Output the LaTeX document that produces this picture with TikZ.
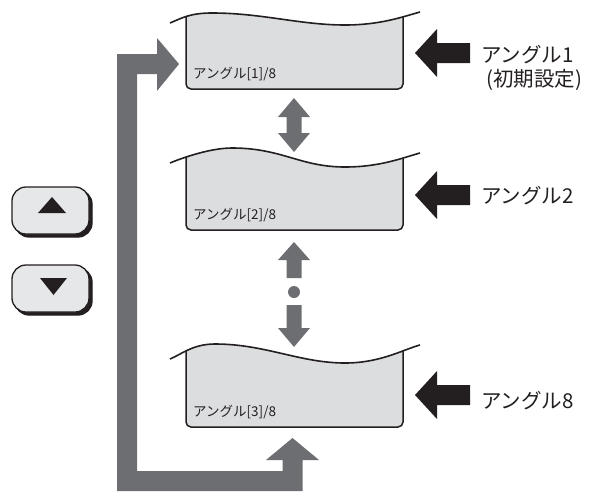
\documentclass[tikz,border=0pt]{standalone}
\usepackage{fontspec}
\setmainfont{Noto Sans CJK JP}
\definecolor{scrgray}{HTML}{DCDDDF}
\definecolor{btngray}{HTML}{E6E7E8}
\definecolor{arrgray}{HTML}{6D6E71}
\definecolor{ink}{HTML}{231F20}
\newcommand\screenbox[8]{% name, yL, xP, yP, yD, yR, bottom, label
  \begin{scope}
    \clip (170,#2) .. controls (182,#2-5) and (#3-22,#4) .. (#3,#4)
      .. controls (#3+50,#4) and (300,#5) .. (345,#5)
      .. controls (380,#5) and (402,#6+5) .. (420,#6)
      -- (420,#7+5) -- (170,#7+5) -- cycle;
    \draw[scr] (186,#4-12) rectangle (403,#7);
  \end{scope}
  \draw[waveline] (170,#2) .. controls (182,#2-5) and (#3-22,#4) .. (#3,#4)
      .. controls (#3+50,#4) and (300,#5) .. (345,#5)
      .. controls (380,#5) and (402,#6+5) .. (420,#6);
  \coordinate (#1) at (294.5,#7);
  \node[lbl] (#1lbl) at (193,#7-11) {#8};
}
\begin{document}
\begin{tikzpicture}[x=1pt,y=-1pt,
  scr/.style={fill=scrgray,draw=ink,line width=1.5pt,rounded corners=5pt},
  waveline/.style={draw=ink,line width=1.6pt},
  lbl/.style={font=\fontsize{13.5}{13.5}\selectfont,text=ink,anchor=base west,inner sep=0pt},
  big/.style={font=\fontsize{20.5}{22}\selectfont,text=ink,anchor=base west,inner sep=0pt},
  garrow/.style={fill=arrgray,draw=none},
  barrow/.style={fill=ink,draw=none},
  btn/.style={fill=btngray,draw=ink,line width=1.3pt,rounded corners=14pt},
  btnshadow/.style={fill=ink,draw=ink,line width=1.3pt,rounded corners=14pt}]
\useasboundingbox (0,0) rectangle (602,493);

% screens
\screenbox{s1}{23}{212}{13}{25}{12}{89}{アングル[1]/8}
\screenbox{s2}{163}{232}{148}{167}{153}{230}{アングル[2]/8}
\screenbox{s3}{359}{215}{344}{363}{345}{427}{アングル[3]/8}

% big L-shaped gray arrow
\fill[garrow] (179,64) -- (157,91) -- (157,74) -- (137,74) -- (137,471)
  -- (282.5,471) -- (282.5,460) -- (266,460) -- (292.5,438) -- (319,460)
  -- (302.5,460) -- (302.5,491) -- (117,491) -- (117,54) -- (157,54)
  -- (157,38) -- cycle;

% double arrow between screen 1 and 2
\fill[garrow] (294,98) -- (310,117) -- (301.5,117) -- (301.5,133) -- (310,133)
  -- (294,152) -- (278,133) -- (286.5,133) -- (286.5,117) -- (278,117) -- cycle;

% up arrow, dot, down arrow between screen 2 and 3
\fill[garrow] (294,242) -- (310,260) -- (301.5,260) -- (301.5,278) -- (286.5,278)
  -- (286.5,260) -- (278,260) -- cycle;
\fill[garrow] (294,292) circle[radius=6];
\fill[garrow] (294,347) -- (310,328) -- (301.5,328) -- (301.5,305) -- (286.5,305)
  -- (286.5,328) -- (278,328) -- cycle;

% black arrows and labels
\foreach \c in {53,195,395}{
  \fill[barrow] (415,\c) -- (437,\c-24) -- (437,\c-10) -- (470,\c-10)
    -- (470,\c+10) -- (437,\c+10) -- (437,\c+24) -- cycle;
}
\node[big] (a1) at (481,62) {アングル1};
\node[big] (a1b) at (486,86) {(初期設定)};
\node[big] (a2) at (481,203) {アングル2};
\node[big] (a8) at (481,408) {アングル8};

% buttons
\draw[btnshadow] (15,190) rectangle (92,237);
\draw[btn] (12,187) rectangle (89,234);
\fill[ink] (52,197) -- (66,213) -- (38,213) -- cycle;
\draw[btnshadow] (15,268) rectangle (92,315);
\draw[btn] (12,265) rectangle (89,312);
\fill[ink] (40,278) -- (67,278) -- (53.5,295) -- cycle;
\end{tikzpicture}
\end{document}
